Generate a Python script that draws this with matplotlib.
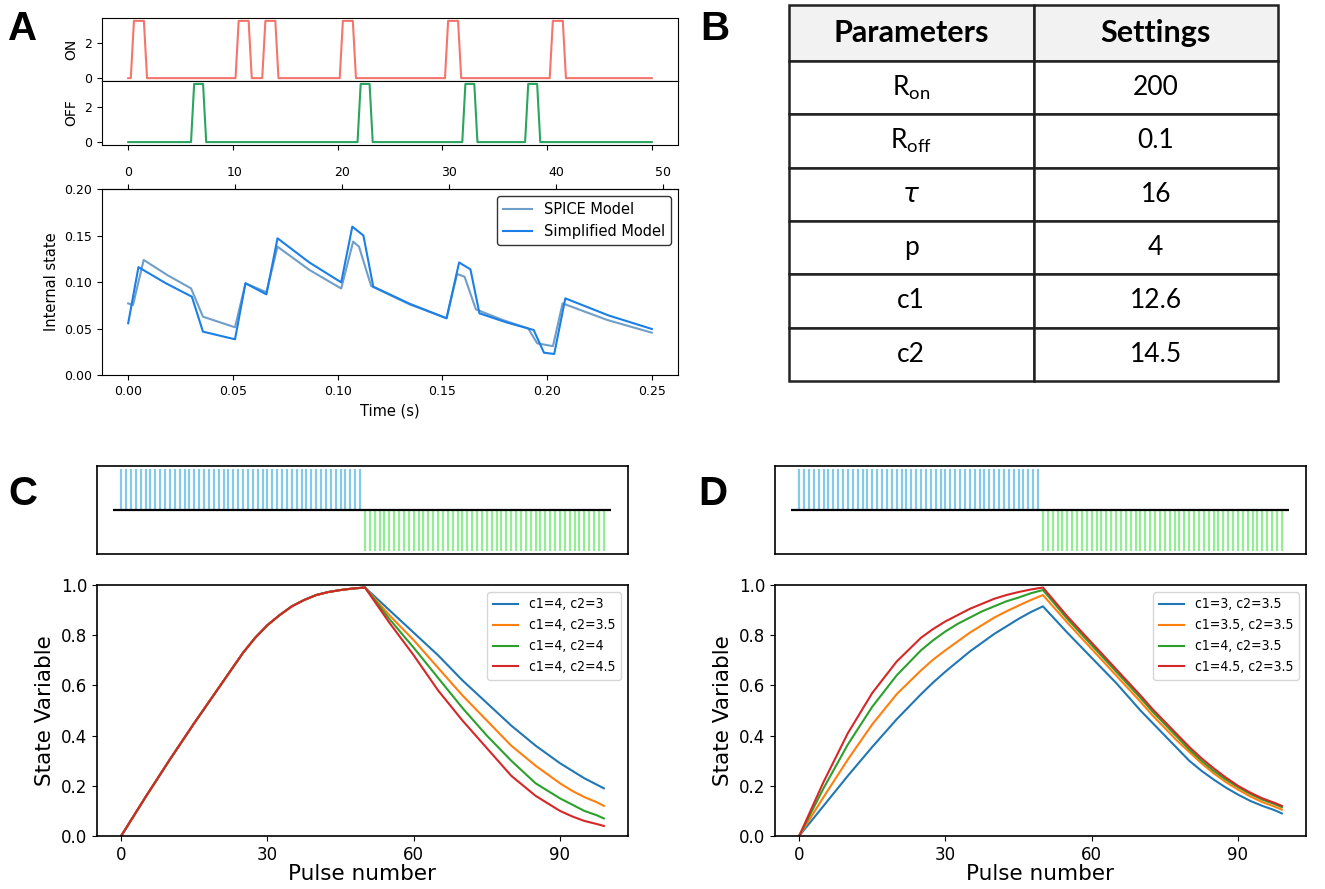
import numpy as np
import matplotlib.pyplot as plt

plt.rcParams['font.family'] = ['DejaVu Sans']
plt.rcParams['mathtext.fontset'] = 'custom'
plt.rcParams['mathtext.rm'] = 'Lato'

W, H = 1325, 889


def px(l, t, r, b):
    # pixel box -> figure fraction rect
    return [l / W, 1 - b / H, (r - l) / W, (b - t) / H]


# panel A: pulse trains (start of each pulse top, in pulse-axis units)
on_starts = [0.55, 10.55, 13.1, 20.5, 30.55, 40.55]
off_starts = [6.3, 22.2, 32.2, 38.2]
on_width, off_width = 0.95, 0.85
on_amp, off_amp = 3.3, 3.35
pulse_end = 50

# panel A: internal state traces
t_spice = [0, 0.0023, 0.0074, 0.019, 0.030, 0.0357, 0.051, 0.056, 0.066, 0.0713, 0.0865, 0.1017,
           0.1074, 0.1102, 0.116, 0.134, 0.152, 0.157, 0.1606, 0.166, 0.1785, 0.191, 0.1953,
           0.2028, 0.2074, 0.2287, 0.25]
v_spice = [0.077, 0.0753, 0.1237, 0.107, 0.0932, 0.0627, 0.0513, 0.0986, 0.089, 0.138, 0.113, 0.093,
           0.1434, 0.138, 0.0957, 0.0763, 0.061, 0.1086, 0.1057, 0.0706, 0.0594, 0.050, 0.034,
           0.031, 0.077, 0.0592, 0.0455]
t_simp = [0, 0.0049, 0.0177, 0.0304, 0.0357, 0.051, 0.056, 0.066, 0.0713, 0.0865, 0.1017, 0.107,
          0.1123, 0.117, 0.1345, 0.152, 0.158, 0.1634, 0.1677, 0.1807, 0.1936, 0.1985, 0.2034,
          0.2087, 0.2294, 0.25]
v_simp = [0.0556, 0.116, 0.099, 0.0842, 0.0466, 0.0384, 0.0986, 0.0867, 0.147, 0.121, 0.0996, 0.1595,
          0.150, 0.095, 0.0765, 0.061, 0.121, 0.1136, 0.0663, 0.0565, 0.0484, 0.024, 0.0226,
          0.0824, 0.064, 0.0495]

# panel B: parameter table
param_names = ['R$_{\\mathregular{on}}$', 'R$_{\\mathregular{off}}$', r'$\tau$', 'p', 'c1', 'c2']
param_values = ['200', '0.1', '16', '4', '12.6', '14.5']

# panels C, D: state variable vs pulse number
n_pulses = 100
x_rise = [0, 5, 10, 15, 20, 25, 27.5, 30, 32.5, 35, 37.5, 40, 42.5, 45, 47.5, 50]
x_fall = [50, 55, 60, 65, 70, 72.5, 75, 77.5, 80, 82.5, 85, 87.5, 90, 92.5, 95, 97.5, 99]

c_labels = ['c1=4, c2=3', 'c1=4, c2=3.5', 'c1=4, c2=4', 'c1=4, c2=4.5']
c_rise = [0, 0.155, 0.305, 0.45, 0.59, 0.73, 0.79, 0.84, 0.88, 0.915, 0.94, 0.96, 0.972, 0.98, 0.986, 0.99]
c_fall = [
    [0.99, 0.90, 0.81, 0.72, 0.62, 0.575, 0.53, 0.485, 0.44, 0.40, 0.36, 0.325, 0.29, 0.26, 0.23, 0.205, 0.19],
    [0.99, 0.88, 0.78, 0.67, 0.56, 0.51, 0.46, 0.41, 0.36, 0.32, 0.28, 0.245, 0.21, 0.18, 0.155, 0.135, 0.12],
    [0.99, 0.865, 0.75, 0.63, 0.51, 0.455, 0.40, 0.35, 0.30, 0.255, 0.21, 0.18, 0.15, 0.125, 0.10, 0.083, 0.07],
    [0.99, 0.85, 0.72, 0.58, 0.46, 0.405, 0.35, 0.295, 0.24, 0.20, 0.16, 0.13, 0.10, 0.078, 0.06, 0.048, 0.04],
]

d_labels = ['c1=3, c2=3.5', 'c1=3.5, c2=3.5', 'c1=4, c2=3.5', 'c1=4.5, c2=3.5']
d_rise = [
    [0, 0.12, 0.24, 0.355, 0.465, 0.565, 0.612, 0.655, 0.695, 0.735, 0.77, 0.805, 0.835, 0.865, 0.892, 0.915],
    [0, 0.155, 0.305, 0.445, 0.565, 0.66, 0.703, 0.74, 0.775, 0.81, 0.84, 0.87, 0.895, 0.918, 0.94, 0.96],
    [0, 0.19, 0.365, 0.515, 0.64, 0.74, 0.78, 0.815, 0.845, 0.87, 0.895, 0.915, 0.935, 0.95, 0.967, 0.98],
    [0, 0.215, 0.41, 0.57, 0.695, 0.79, 0.825, 0.855, 0.88, 0.905, 0.925, 0.945, 0.96, 0.972, 0.982, 0.99],
]
d_fall = [
    [0.915, 0.81, 0.71, 0.61, 0.50, 0.45, 0.40, 0.35, 0.30, 0.26, 0.225, 0.193, 0.165, 0.14, 0.12, 0.103, 0.09],
    [0.96, 0.85, 0.745, 0.64, 0.535, 0.48, 0.43, 0.38, 0.335, 0.29, 0.25, 0.215, 0.185, 0.158, 0.135, 0.117, 0.105],
    [0.98, 0.865, 0.76, 0.655, 0.55, 0.495, 0.445, 0.395, 0.345, 0.30, 0.26, 0.225, 0.195, 0.168, 0.145, 0.127, 0.115],
    [0.99, 0.875, 0.77, 0.665, 0.56, 0.505, 0.455, 0.405, 0.355, 0.31, 0.27, 0.233, 0.20, 0.173, 0.15, 0.132, 0.12],
]


def pulse_trace(starts, width, amp, ramp=0.3):
    t, v = [0.0], [0.0]
    for s in starts:
        t += [s - ramp, s, s + width, s + width + ramp]
        v += [0, amp, amp, 0]
    t.append(pulse_end)
    v.append(0)
    return t, v


fig = plt.figure(figsize=(W / 100, H / 100), dpi=100)

# ---- A ----
ax_on = fig.add_axes(px(102, 18, 678, 81))
ax_off = fig.add_axes(px(102, 81, 678, 145))
ax_int = fig.add_axes(px(102, 189, 678, 375))

t, v = pulse_trace(on_starts, on_width, on_amp)
ax_on.plot(t, v, color='#f4756b', lw=1.5)
t, v = pulse_trace(off_starts, off_width, off_amp)
ax_off.plot(t, v, color='#2aa55f', lw=1.5)
for ax, name in [(ax_on, 'ON'), (ax_off, 'OFF')]:
    ax.set_yticks([0, 2])
    ax.set_ylabel(name, fontsize=10)
    ax.tick_params(labelsize=9)
ax_on.tick_params(bottom=False, labelbottom=False)
ax_off.set_xticks(range(0, 51, 10))
ax_off.tick_params(labelbottom=False)

ax_int.plot(t_spice, v_spice, color='#6f9ec8', lw=1.5, label='SPICE Model')
ax_int.plot(t_simp, v_simp, color='#1a7fe6', lw=1.5, label='Simplified Model')
ax_int.set_ylim(0, 0.2)
ax_int.set_yticks([0, 0.05, 0.1, 0.15, 0.2])
ax_int.set_xticks([0, 0.05, 0.1, 0.15, 0.2, 0.25])
ax_int.set_xlabel('Time (s)', fontsize=10.5)
ax_int.set_ylabel('Internal state', fontsize=10.5)
ax_int.tick_params(labelsize=9)
ax_int.legend(loc='upper right', fontsize=10.5, fancybox=True, edgecolor='#333333', framealpha=1)
sec = ax_int.secondary_xaxis('top', functions=(lambda x: x * 195.9, lambda n: n / 195.9))
sec.set_xticks(range(0, 51, 10))
sec.tick_params(labelsize=9)

# ---- B ----
ax_tab = fig.add_axes(px(789, 5, 1278, 381))
ax_tab.axis('off')
tab = ax_tab.table(cellText=[[n, v] for n, v in zip(param_names, param_values)],
                   colLabels=['Parameters', 'Settings'], cellLoc='center', bbox=[0, 0, 1, 1])
tab.auto_set_font_size(False)
for (r, c), cell in tab.get_celld().items():
    cell.set_linewidth(1.8)
    cell.set_edgecolor('#222222')
    cell.set_height(0.149 if r == 0 else 0.142)
    if r == 0:
        cell.set_facecolor('#f2f2f2')
        cell.set_text_props(fontsize=22, fontweight='bold', family='Lato')
    else:
        cell.set_text_props(fontsize=19, family='Lato')

# ---- C, D ----
pulse_idx = np.arange(n_pulses)


def raster(rect):
    ax = fig.add_axes(px(*rect))
    ax.vlines(pulse_idx[:50], 0, 1, color='#82c9ec', lw=1.6)
    ax.vlines(pulse_idx[50:], -1, 0, color='#92ee92', lw=1.6)
    ax.hlines(0, -1.6, 100.5, color='black', lw=1.6)
    ax.set_xlim(-4.95, 103.95)
    ax.set_ylim(-1.08, 1.08)
    ax.set_xticks([])
    ax.set_yticks([])
    for s in ax.spines.values():
        s.set_linewidth(1.2)
    return ax


def state_panel(rect, rises, falls, labels):
    ax = fig.add_axes(px(*rect))
    for i, lab in enumerate(labels):
        ax.plot(x_rise + x_fall[1:], rises[i] + falls[i][1:], color='C%d' % i, lw=1.5, label=lab)
    ax.set_xlim(-4.95, 103.95)
    ax.set_ylim(0, 1.0)
    ax.set_xticks([0, 30, 60, 90])
    ax.set_yticks([0, 0.2, 0.4, 0.6, 0.8, 1.0])
    ax.tick_params(labelsize=12)
    ax.set_xlabel('Pulse number', fontsize=15.5, labelpad=0)
    ax.set_ylabel('State Variable', fontsize=15.5)
    ax.legend(loc='upper right', prop={'family': 'DejaVu Sans', 'stretch': 'condensed', 'size': 10},
              handlelength=1.8)
    for s in ax.spines.values():
        s.set_linewidth(1.2)
    return ax


raster((97, 466, 628, 554))
state_panel((97, 585, 628, 836), [c_rise] * 4, c_fall, c_labels)
raster((775, 466, 1306, 554))
state_panel((775, 585, 1306, 836), d_rise, d_fall, d_labels)

for lab, x, y in [('A', 8, 40), ('B', 700, 40), ('C', 8, 505), ('D', 698, 505)]:
    fig.text(x / W, 1 - y / H, lab, fontsize=29, fontweight='bold', family='Liberation Sans')

fig.savefig('out.png', dpi=100)
